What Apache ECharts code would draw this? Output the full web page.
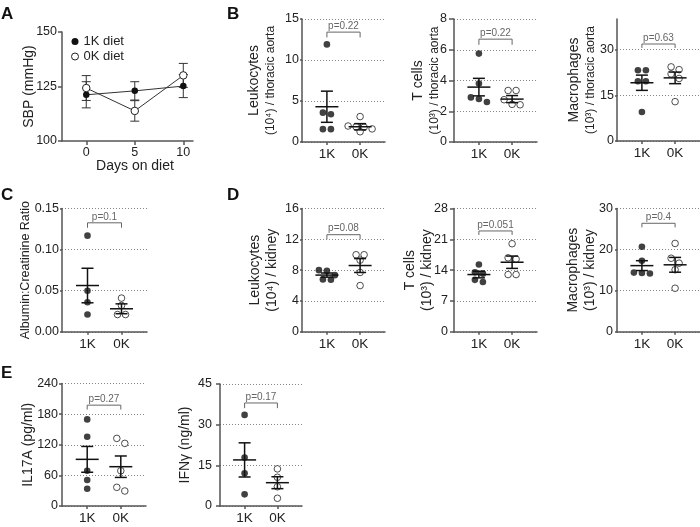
<!DOCTYPE html>
<html><head><meta charset="utf-8">
<script src="https://cdn.jsdelivr.net/npm/echarts@6/dist/echarts.min.js"></script>
<style>html,body{margin:0;padding:0;background:#fff}#c{width:700px;height:527px}</style>
</head><body><div id="c"></div>
<script>
// ---------- data ----------
const groups = ['1K', '0K'];

// A: SBP over days on diet
const daysOnDiet = [0, 5, 10];
const sbpMean1K = [121.2, 123.0, 125.2];
const sbpSem1K = [6.0, 4.2, 5.3];
const sbpMean0K = [124.3, 113.8, 130.1];
const sbpSem0K = [5.7, 4.7, 5.5];
const sbpTicks = [100, 125, 150];
const dayTicks = [0, 5, 10];

// B: thoracic aorta
const aortaLeuk1K = [11.9, 3.58, 3.38, 1.57, 1.57];
const aortaLeuk0K = [3.1, 1.95, 1.85, 1.8, 1.6, 1.25];
const aortaLeukMean = [4.3, 1.86];
const aortaLeukSem = [1.9, 0.38];
const aortaLeukTicks = [0, 5, 10, 15];
const aortaLeukBracket = [13.4, 12.75];
const aortaLeukP = 'p=0.22';

const aortaT1K = [5.75, 3.8, 2.9, 2.8, 2.6];
const aortaT0K = [3.35, 3.35, 2.75, 2.45, 2.42];
const aortaTMean = [3.57, 2.79];
const aortaTSem = [0.57, 0.23];
const aortaTTicks = [0, 2, 4, 6, 8];
const aortaTBracket = [6.69, 6.32];
const aortaTP = 'p=0.22';

const aortaMac1K = [23.2, 23.2, 19.6, 19.6, 9.5];
const aortaMac0K = [24.3, 23.4, 22.0, 20.5, 12.9];
const aortaMacMean = [19.1, 20.7];
const aortaMacSem = [2.5, 1.9];
const aortaMacTicks = [0, 15, 30];
const aortaMacBracket = [31.8, 30.5];
const aortaMacP = 'p=0.63';

// C: albumin:creatinine
const acr1K = [0.117, 0.050, 0.036, 0.021];
const acr0K = [0.041, 0.032, 0.021, 0.021];
const acrMean = [0.0563, 0.028];
const acrSem = [0.021, 0.006];
const acrTicks = [0, 0.05, 0.10, 0.15];
const acrBracket = [0.1326, 0.1266];
const acrP = 'p=0.1';

// D: kidney
const kidLeuk1K = [8.0, 7.9, 7.35, 6.8, 6.75];
const kidLeuk0K = [10.0, 10.0, 9.3, 7.7, 6.0];
const kidLeukMean = [7.36, 8.6];
const kidLeukSem = [0.27, 0.9];
const kidLeukTicks = [0, 4, 8, 12, 16];
const kidLeukBracket = [12.6, 12.0];
const kidLeukP = 'p=0.08';

const kidT1K = [15.3, 13.5, 13.2, 11.8, 11.3];
const kidT0K = [20.0, 16.8, 16.5, 13.0, 13.0];
const kidTMean = [13.0, 15.8];
const kidTSem = [0.75, 1.4];
const kidTTicks = [0, 7, 14, 21, 28];
const kidTBracket = [22.9, 22.0];
const kidTP = 'p=0.051';

const kidMac1K = [20.7, 17.3, 14.4, 14.3, 14.2];
const kidMac0K = [21.5, 17.9, 16.7, 15.1, 10.6];
const kidMacMean = [16.1, 16.3];
const kidMacSem = [1.2, 1.8];
const kidMacTicks = [0, 10, 20, 30];
const kidMacBracket = [26.4, 25.4];
const kidMacP = 'p=0.4';

// E: cytokines
const il17a1K = [169.7, 135.6, 69, 50.9, 33.9];
const il17a0K = [132.5, 122.7, 69, 36.6, 29.4];
const il17aMean = [91.4, 77];
const il17aSem = [25.3, 21];
const il17aTicks = [0, 60, 120, 180, 240];
const il17aBracket = [197.6, 189];
const il17aP = 'p=0.27';

const ifng1K = [33.6, 17.9, 12.1, 4.3];
const ifng0K = [13.7, 10.6, 7.1, 2.85];
const ifngMean = [17.0, 8.6];
const ifngSem = [6.3, 2.2];
const ifngTicks = [0, 15, 30, 45];
const ifngBracket = [38.0, 36.1];
const ifngP = 'p=0.17';

// ---------- styling / layout ----------
const FONT = '"Liberation Sans", Arial, sans-serif';
const AX = '#555';
const TXT = '#222';
const XMIN = 0.25, XMAX = 2.75;
const DOT = 6.6;

const panels = [
  {box:{left:302, top:19, width:83, height:123}, max:15, ticks:aortaLeukTicks, d:[aortaLeuk1K, aortaLeuk0K], mean:aortaLeukMean, sem:aortaLeukSem, br:aortaLeukBracket, p:aortaLeukP,
   name:['Leukocytes', '(10⁴) / thoracic aorta'], n2:12, nameGap:24, margin:3, tick:2},
  {box:{left:454, top:19, width:83, height:123}, max:8, ticks:aortaTTicks, d:[aortaT1K, aortaT0K], mean:aortaTMean, sem:aortaTSem, br:aortaTBracket, p:aortaTP,
   name:['T cells', '(10³) / thoracic aorta'], n2:12, nameGap:12, margin:7, tick:5},
  {box:{left:617, top:19, width:83, height:122}, max:40, ticks:aortaMacTicks, d:[aortaMac1K, aortaMac0K], mean:aortaMacMean, sem:aortaMacSem, br:aortaMacBracket, p:aortaMacP,
   name:['Macrophages', '(10³) / thoracic aorta'], n2:12, nameGap:19, margin:3, tick:2},
  {box:{left:62, top:208.5, width:85, height:123.3}, max:0.15, ticks:acrTicks, d:[acr1K, acr0K], mean:acrMean, sem:acrSem, br:acrBracket, p:acrP,
   name:['Albumin:Creatinine Ratio'], n1:12.5, nameGap:29, margin:3, tick:2, fmt:v=>v.toFixed(2)},
  {box:{left:302, top:208.5, width:83, height:123.3}, max:16, ticks:kidLeukTicks, d:[kidLeuk1K, kidLeuk0K], mean:kidLeukMean, sem:kidLeukSem, br:kidLeukBracket, p:kidLeukP,
   name:['Leukocytes', '(10⁴) / kidney'], n2:14, nameGap:21, margin:3, tick:2},
  {box:{left:454, top:208.5, width:83, height:123.3}, max:28, ticks:kidTTicks, d:[kidT1K, kidT0K], mean:kidTMean, sem:kidTSem, br:kidTBracket, p:kidTP,
   name:['T cells', '(10³) / kidney'], n2:14, nameGap:18, margin:6, tick:4},
  {box:{left:617, top:208.5, width:83, height:123.3}, max:30, ticks:kidMacTicks, d:[kidMac1K, kidMac0K], mean:kidMacMean, sem:kidMacSem, br:kidMacBracket, p:kidMacP,
   name:['Macrophages', '(10³) / kidney'], n2:14, nameGap:18, margin:4, tick:2},
  {box:{left:62, top:383.5, width:84, height:122.5}, max:240, ticks:il17aTicks, d:[il17a1K, il17a0K], mean:il17aMean, sem:il17aSem, br:il17aBracket, p:il17aP,
   name:['IL17A (pg/ml)'], n1:14, nameGap:26, margin:4, tick:3},
  {box:{left:220, top:384, width:82, height:122}, max:45, ticks:ifngTicks, d:[ifng1K, ifng0K], mean:ifngMean, sem:ifngSem, br:ifngBracket, p:ifngP,
   name:['IFNγ (ng/ml)'], n1:14, nameGap:27, margin:8, tick:4}
];

// simple symmetric beeswarm: values close in pixel space share a row
function swarm(values, center, pxY, pxX) {
  const idx = values.map((v, i) => i).sort((a, b) => values[b] - values[a]);
  const rows = [];
  idx.forEach(i => {
    const last = rows[rows.length - 1];
    if (last && (values[last[0]] - values[i]) * pxY < DOT * 0.8) last.push(i);
    else rows.push([i]);
  });
  const out = [];
  const step = (DOT + 1.4) / pxX;
  rows.forEach(r => r.forEach((i, k) => out.push([center + (k - (r.length - 1) / 2) * step, values[i]])));
  return out;
}

const grids = [], xAxes = [], yAxes = [], series = [];
const lineSt = {color: AX, width: 1.5};

function yName(p) {
  if (p.name.length === 1) return {text: p.name[0], style: {fontSize: p.n1, fontFamily: FONT, color: TXT, lineHeight: p.n1 + 2}};
  return {
    text: '{a|' + p.name[0] + '}\n{b|' + p.name[1] + '}',
    style: {rich: {
      a: {fontSize: 14, fontFamily: FONT, color: TXT, lineHeight: 17},
      b: {fontSize: p.n2, fontFamily: FONT, color: TXT, lineHeight: p.n2 + 3}
    }}
  };
}

panels.forEach(p => {
  const gi = grids.length;
  grids.push(Object.assign({}, p.box));
  xAxes.push({
    type: 'value', gridIndex: gi, min: XMIN, max: XMAX,
    axisLine: {show: true, onZero: false, lineStyle: lineSt},
    axisTick: {show: true, length: 3, customValues: [1, 2], lineStyle: lineSt},
    axisLabel: {customValues: [1, 2], formatter: v => groups[Math.round(v) - 1], fontSize: 13.5, fontFamily: FONT, color: TXT, margin: 5},
    splitLine: {show: false}
  });
  const nm = yName(p);
  yAxes.push({
    type: 'value', gridIndex: gi, min: 0, max: p.max,
    axisLine: {show: true, onZero: false, lineStyle: lineSt},
    axisTick: {show: true, length: p.tick, customValues: p.ticks, lineStyle: lineSt},
    axisLabel: {customValues: p.ticks, formatter: p.fmt || (v => String(v)), fontSize: 12.5, fontFamily: FONT, color: TXT, margin: p.margin},
    splitLine: {show: true, lineStyle: {type: [1, 2], color: '#888', width: 1}},
    name: nm.text, nameLocation: 'middle', nameRotate: 90, nameGap: p.nameGap, nameMoveOverlap: false,
    nameTextStyle: nm.style
  });
  const pxY = p.box.height / p.max;
  const pxX = p.box.width / (XMAX - XMIN);
  series.push({
    type: 'scatter', xAxisIndex: gi, yAxisIndex: gi, symbol: 'circle', symbolSize: DOT, z: 3,
    itemStyle: {color: '#111'}, data: swarm(p.d[0], 1, pxY, pxX), silent: true
  });
  series.push({
    type: 'scatter', xAxisIndex: gi, yAxisIndex: gi, symbol: 'circle', symbolSize: DOT, z: 3,
    itemStyle: {color: '#fff', borderColor: '#222', borderWidth: 1}, data: swarm(p.d[1], 2, pxY, pxX), silent: true
  });
  series.push({
    type: 'custom', xAxisIndex: gi, yAxisIndex: gi, z: 5, silent: true, clip: false,
    encode: {x: 0, y: 1},
    data: groups.map((g, k) => [k + 1, p.mean[k], p.sem[k]]),
    renderItem: (params, api) => {
      const x = api.value(0), m = api.value(1), s = api.value(2);
      const pm = api.coord([x, m]), pt = api.coord([x, m + s]), pb = api.coord([x, m - s]);
      const st = {stroke: '#111', lineWidth: 1.5};
      return {type: 'group', children: [
        {type: 'line', shape: {x1: pm[0] - 11.5, y1: pm[1], x2: pm[0] + 11.5, y2: pm[1]}, style: st},
        {type: 'line', shape: {x1: pt[0], y1: pt[1], x2: pb[0], y2: pb[1]}, style: st},
        {type: 'line', shape: {x1: pt[0] - 6, y1: pt[1], x2: pt[0] + 6, y2: pt[1]}, style: st},
        {type: 'line', shape: {x1: pb[0] - 6, y1: pb[1], x2: pb[0] + 6, y2: pb[1]}, style: st}
      ]};
    }
  });
  series.push({
    type: 'custom', xAxisIndex: gi, yAxisIndex: gi, z: 6, silent: true, clip: false,
    encode: {x: 0, y: 1},
    data: [[1, p.br[0], 2, p.br[1]]],
    renderItem: (params, api) => {
      const a = api.coord([api.value(0), api.value(1)]);
      const b = api.coord([api.value(2), api.value(1)]);
      const yl = api.coord([api.value(0), api.value(3)])[1];
      return {type: 'group', children: [
        {type: 'polyline', shape: {points: [[a[0], yl], [a[0], a[1]], [b[0], b[1]], [b[0], yl]]}, style: {stroke: '#666', lineWidth: 1, fill: null}},
        {type: 'text', style: {text: p.p, x: (a[0] + b[0]) / 2, y: a[1] - 1, align: 'center', verticalAlign: 'bottom', fontSize: 10, fontFamily: FONT, fill: '#666'}}
      ]};
    }
  });
});

// Panel A
const gA = grids.length;
grids.push({left: 62, top: 32, width: 131, height: 109});
xAxes.push({
  type: 'value', gridIndex: gA, min: -2.5, max: 11,
  axisLine: {show: true, onZero: false, lineStyle: lineSt},
  axisTick: {show: true, length: 4, customValues: dayTicks, lineStyle: lineSt},
  axisLabel: {customValues: dayTicks, fontSize: 12.5, fontFamily: FONT, color: TXT, margin: 5},
  splitLine: {show: false},
  name: 'Days on diet', nameLocation: 'middle', nameGap: 18, nameMoveOverlap: false,
  nameTextStyle: {fontSize: 14, fontFamily: FONT, color: TXT, padding: [0, 0, 0, 15]}
});
yAxes.push({
  type: 'value', gridIndex: gA, min: 100, max: 150,
  axisLine: {show: true, onZero: false, lineStyle: lineSt},
  axisTick: {show: true, length: 4, customValues: sbpTicks, lineStyle: lineSt},
  axisLabel: {customValues: sbpTicks, fontSize: 12.5, fontFamily: FONT, color: TXT, margin: 5},
  splitLine: {show: false},
  name: 'SBP (mmHg)', nameLocation: 'middle', nameRotate: 90, nameGap: 26, nameMoveOverlap: false,
  nameTextStyle: {fontSize: 14, fontFamily: FONT, color: TXT}
});
function errBars(mean, sem) {
  return {
    type: 'custom', xAxisIndex: gA, yAxisIndex: gA, z: 2, silent: true, clip: false,
    encode: {x: 0, y: 1},
    data: daysOnDiet.map((d, i) => [d, mean[i], sem[i]]),
    renderItem: (params, api) => {
      const x = api.value(0), m = api.value(1), s = api.value(2);
      const pt = api.coord([x, m + s]), pb = api.coord([x, m - s]);
      const st = {stroke: '#333', lineWidth: 1};
      return {type: 'group', children: [
        {type: 'line', shape: {x1: pt[0], y1: pt[1], x2: pb[0], y2: pb[1]}, style: st},
        {type: 'line', shape: {x1: pt[0] - 4.5, y1: pt[1], x2: pt[0] + 4.5, y2: pt[1]}, style: st},
        {type: 'line', shape: {x1: pb[0] - 4.5, y1: pb[1], x2: pb[0] + 4.5, y2: pb[1]}, style: st}
      ]};
    }
  };
}
series.push(errBars(sbpMean1K, sbpSem1K));
series.push(errBars(sbpMean0K, sbpSem0K));
series.push({
  name: '1K diet', type: 'line', xAxisIndex: gA, yAxisIndex: gA, z: 4, silent: true,
  symbol: 'circle', symbolSize: 6.5, showSymbol: true,
  itemStyle: {color: '#111'}, lineStyle: {color: '#333', width: 1},
  data: daysOnDiet.map((d, i) => [d, sbpMean1K[i]])
});
series.push({
  name: '0K diet', type: 'line', xAxisIndex: gA, yAxisIndex: gA, z: 4, silent: true,
  symbol: 'circle', symbolSize: 7.5, showSymbol: true,
  itemStyle: {color: '#fff', borderColor: '#222', borderWidth: 1}, lineStyle: {color: '#333', width: 1},
  data: daysOnDiet.map((d, i) => [d, sbpMean0K[i]])
});

const letters = [['A', 1, 6], ['B', 227, 6], ['C', 1, 187], ['D', 227, 187], ['E', 1, 365]];

const option = {
  animation: false,
  backgroundColor: '#fff',
  grid: grids, xAxis: xAxes, yAxis: yAxes, series: series,
  legend: {
    left: 66, top: 30, orient: 'vertical', itemWidth: 7, itemHeight: 7, itemGap: 2,
    selectedMode: false,
    textStyle: {fontSize: 13, fontFamily: FONT, color: TXT, lineHeight: 13},
    data: [
      {name: '1K diet', icon: 'circle', itemStyle: {color: '#111', borderWidth: 0}},
      {name: '0K diet', icon: 'circle', itemStyle: {color: '#fff', borderColor: '#222', borderWidth: 1}}
    ]
  },
  graphic: letters.map(l => ({
    type: 'text', left: l[1], top: l[2],
    style: {text: l[0], font: 'bold 17px ' + FONT, fill: '#111'}
  }))
};

const chart = echarts.init(document.getElementById('c'), null, {renderer: 'canvas'});
chart.setOption(option);
</script></body></html>
